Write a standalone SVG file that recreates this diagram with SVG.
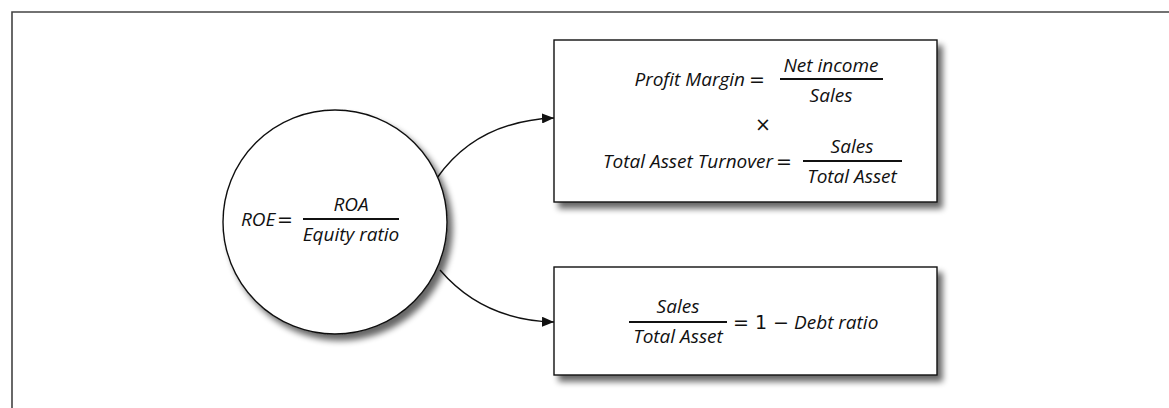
<svg xmlns="http://www.w3.org/2000/svg" width="1169" height="408" viewBox="0 0 1169 408">
<style>
.t{font-family:"Open Sans","Liberation Sans",sans-serif;font-style:italic;font-size:19px;fill:#111}
.u{font-family:"DejaVu Sans","Liberation Sans",sans-serif;font-size:19px;fill:#111}
.n{fill:#fff;stroke:#111;stroke-width:1.4}
.fl{stroke:#111;stroke-width:2}
.c{fill:none;stroke:#111;stroke-width:1.4}
</style>
<defs>
<filter id="sh" x="-20%" y="-20%" width="150%" height="150%">
<feGaussianBlur in="SourceAlpha" stdDeviation="3"/>
<feOffset dx="5" dy="6" result="b"/>
<feComponentTransfer><feFuncA type="linear" slope="0.6"/></feComponentTransfer>
<feMerge><feMergeNode/><feMergeNode in="SourceGraphic"/></feMerge>
</filter>
<marker id="ar" viewBox="0 0 12 10" refX="12" refY="5" markerWidth="12" markerHeight="10" markerUnits="userSpaceOnUse" orient="auto">
<path d="M0,0 L12,5 L0,10 Z" fill="#111"/>
</marker>
</defs>
<rect width="1169" height="408" fill="#fff"/>
<path d="M12,408 V12 H1169" fill="none" stroke="#444" stroke-width="1.6"/>
<g id="connectors">
<path class="c" d="M437,178 C465,138 505,120 554,118" marker-end="url(#ar)"/>
<path class="c" d="M440,270 C470,305 510,321 554,322" marker-end="url(#ar)"/>
</g>
<g id="roe">
<circle class="n" cx="335" cy="222" r="112" filter="url(#sh)"/>
<text class="t" x="241" y="226">ROE</text>
<text class="u" x="277" y="226">=</text>
<line class="fl" x1="303" y1="219" x2="399" y2="219"/>
<text class="t" x="351" y="211" text-anchor="middle">ROA</text>
<text class="t" x="351" y="241" text-anchor="middle">Equity ratio</text>
</g>
<g id="dupont">
<rect class="n" x="554" y="40" width="383" height="162" filter="url(#sh)"/>
<text class="t" x="745" y="86" text-anchor="end">Profit Margin</text>
<text class="u" x="749" y="86">=</text>
<line class="fl" x1="780" y1="79" x2="883" y2="79"/>
<text class="t" x="831" y="72" text-anchor="middle">Net income</text>
<text class="t" x="831" y="102" text-anchor="middle">Sales</text>
<text class="u" x="763" y="131" text-anchor="middle">×</text>
<text class="t" x="773" y="168" text-anchor="end">Total Asset Turnover</text>
<text class="u" x="776" y="168">=</text>
<line class="fl" x1="803" y1="161" x2="902" y2="161"/>
<text class="t" x="852" y="153" text-anchor="middle">Sales</text>
<text class="t" x="852" y="183" text-anchor="middle">Total Asset</text>
</g>
<g id="leverage">
<rect class="n" x="554" y="267" width="383" height="108" filter="url(#sh)"/>
<line class="fl" x1="629" y1="322" x2="727" y2="322"/>
<text class="t" x="678" y="313" text-anchor="middle">Sales</text>
<text class="t" x="678" y="343" text-anchor="middle">Total Asset</text>
<text class="u" x="733" y="329">= 1 −</text>
<text class="t" x="794" y="329">Debt ratio</text>
</g>
</svg>
